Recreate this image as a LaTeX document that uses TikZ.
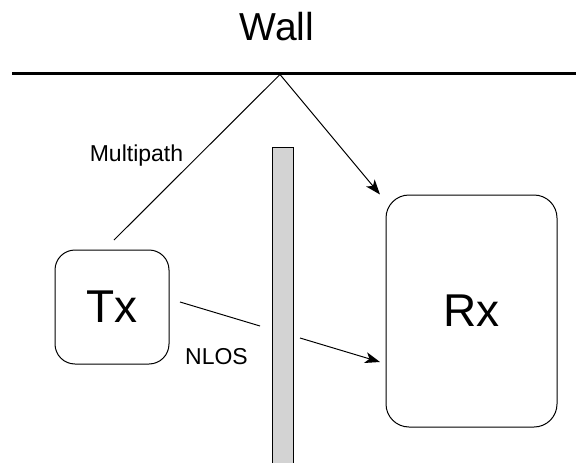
\documentclass[tikz,border=0pt]{standalone}
\usepackage{fontspec}
\setmainfont{Liberation Sans}
\usepackage{tikz}
\usetikzlibrary{arrows.meta,positioning}
\definecolor{pillargray}{RGB}{211,211,211}

\begin{document}
\begin{tikzpicture}[x=1pt, y=-1pt,
  device/.style={draw, line width=1pt, inner sep=0pt, font=\fontsize{46}{55}\selectfont},
  label/.style={inner sep=0pt, anchor=base, font=\fontsize{23}{28}\selectfont},
  ray/.style={line width=1pt},
  arrowray/.style={ray, -{Stealth[length=15pt, width=11pt, inset=4pt]}}]

\useasboundingbox (0, 0) rectangle (576, 463);

% Wall
\node[inner sep=0pt, anchor=base, font=\fontsize{39}{47}\selectfont] (walltxt) at (277, 40) {Wall};
\draw[line width=3pt] (12, 73) -- (580, 73);
\coordinate (apex) at (280, 74.5);

% Obstacle
\draw[line width=1pt, fill=pillargray] (272, 147) rectangle (293, 470);

% Transmitter and receiver
\node[device, minimum width=114pt, minimum height=114pt, rounded corners=20pt] (tx) at (112, 307) {Tx};
\node[device, minimum width=171pt, minimum height=232pt, rounded corners=23pt] (rx) at (471.5, 311) {Rx};

% Multipath ray
\coordinate (mpend) at (114, 240);
\draw[ray] (mpend) -- (apex);
\draw[arrowray] (apex) -- (380, 194.5) coordinate (mptip);
\node[label] (mptxt) at (136.5, 161) {Multipath};

% NLOS ray
\coordinate (nlosA) at (180, 302);
\coordinate (nlosB) at (260, 326);
\coordinate (nlosC) at (300, 338);
\coordinate (nlosD) at (380, 362);
\draw[ray] (nlosA) -- (nlosB);
\draw[arrowray] (nlosC) -- (nlosD);
\node[label] (nlostxt) at (216.5, 364) {NLOS};

\end{tikzpicture}
\end{document}
